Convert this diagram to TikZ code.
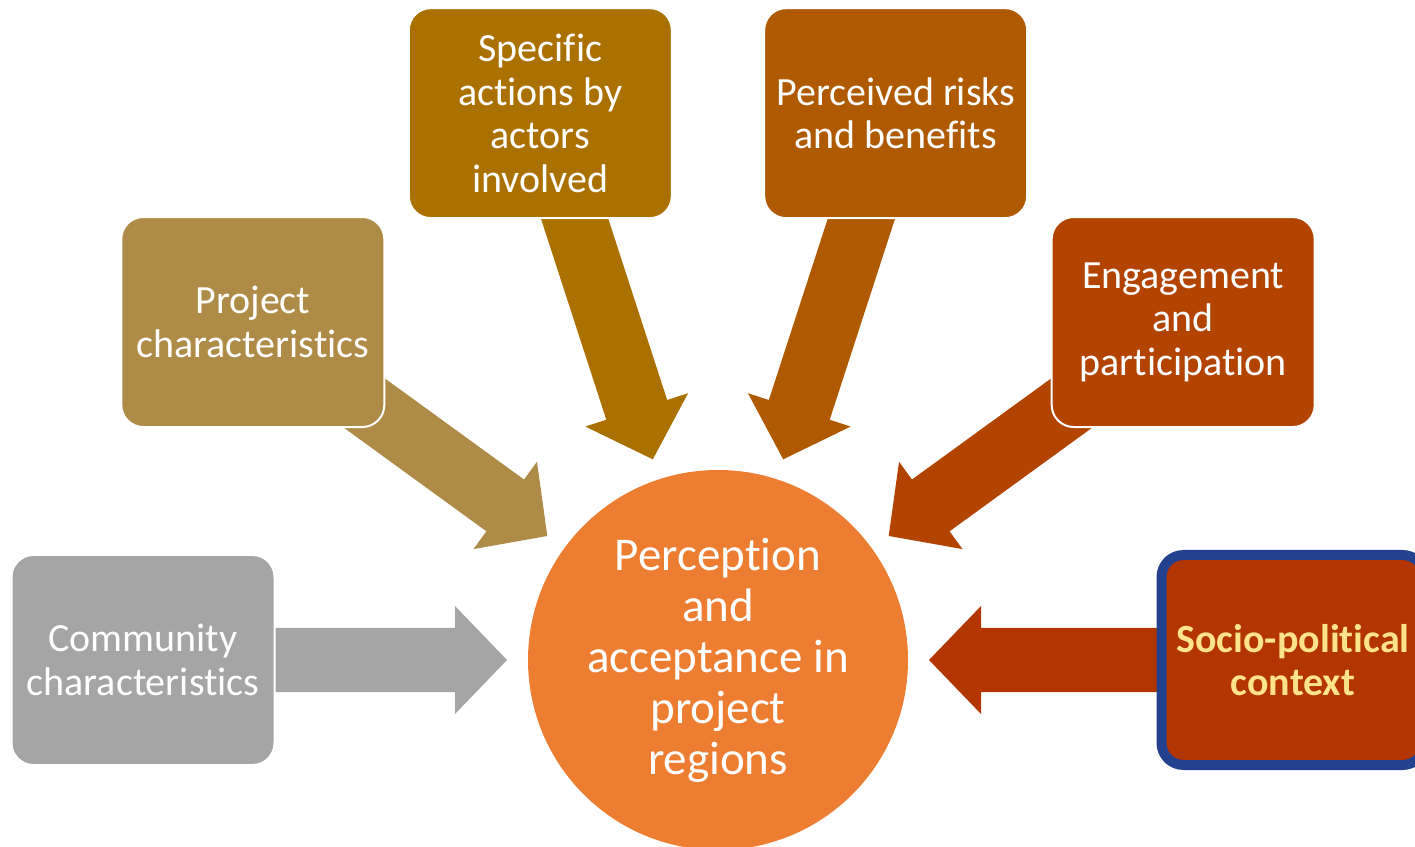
\documentclass[tikz,border=0pt]{standalone}
\usepackage{fontspec}
\setmainfont{Carlito}[Ligatures=NoCommon]
\usepackage{tikz}
\usetikzlibrary{calc,backgrounds}
\definecolor{commgray}{HTML}{A5A5A5}
\definecolor{projtan}{HTML}{AE8B47}
\definecolor{actgold}{HTML}{AB7100}
\definecolor{riskbrown}{HTML}{AF5A00}
\definecolor{engrust}{HTML}{B24400}
\definecolor{sociored}{HTML}{B33500}
\definecolor{huborange}{HTML}{ED7D31}
\definecolor{frameblue}{HTML}{24418F}
\definecolor{sociotext}{HTML}{FFE38A}
\tikzset{
  factor/.style={rounded corners=22pt, draw=white, line width=2pt,
    minimum width=263pt, minimum height=210pt, inner sep=0pt,
    text=white, align=center, font=\fontsize{40}{43.5}\selectfont},
  hub/.style={circle, fill=huborange, minimum size=380pt, inner sep=0pt,
    text=white, align=center, font=\fontsize{47}{51}\selectfont}
}
% block arrow from a factor box towards the hub
\def\fatarrow#1#2{%
  \coordinate (tip) at ($(circ)!211pt!(#1)$);
  \coordinate (hb) at ($(circ)!263pt!(#1)$);
  \coordinate (tl) at ($(circ)!490pt!(#1)$);
  \fill[#2] (tip) -- ($(hb)!54pt!90:(#1)$) -- ($(hb)!32pt!90:(#1)$)
    -- ($(tl)!32pt!90:(#1)$) -- ($(tl)!32pt!-90:(#1)$)
    -- ($(hb)!32pt!-90:(#1)$) -- ($(hb)!54pt!-90:(#1)$) -- cycle;}
\begin{document}
\begin{tikzpicture}[x=1pt,y=1pt]
\useasboundingbox (0,0) rectangle (1415,846);
\clip (0,0) rectangle (1415,846);
\node[hub] (circ) at (718,186) {Perception\\and\\acceptance in\\project\\regions};
\node[factor, fill=commgray] (community) at ($(circ)+(180:575)$) {Community\\characteristics};
\node[factor, fill=projtan] (project) at ($(circ)+(144:575)$) {Project\\characteristics};
\node[factor, fill=actgold] (actions) at ($(circ)+(108:575)$) {Specific\\actions by\\actors\\involved};
\node[factor, fill=riskbrown] (risks) at ($(circ)+(72:575)$) {Perceived risks\\and benefits};
\node[factor, fill=engrust] (engage) at ($(circ)+(36:575)$) {Engagement\\and\\participation};
\node[factor, fill=sociored, draw=frameblue, line width=10pt, text=sociotext,
  font=\fontsize{40}{43.5}\selectfont\bfseries] (socio) at ($(circ)+(0:575)$) {Socio-political\\context};
\begin{scope}[on background layer]
\fatarrow{community}{commgray}
\fatarrow{project}{projtan}
\fatarrow{actions}{actgold}
\fatarrow{risks}{riskbrown}
\fatarrow{engage}{engrust}
\fatarrow{socio}{sociored}
\end{scope}
\end{tikzpicture}
\end{document}
